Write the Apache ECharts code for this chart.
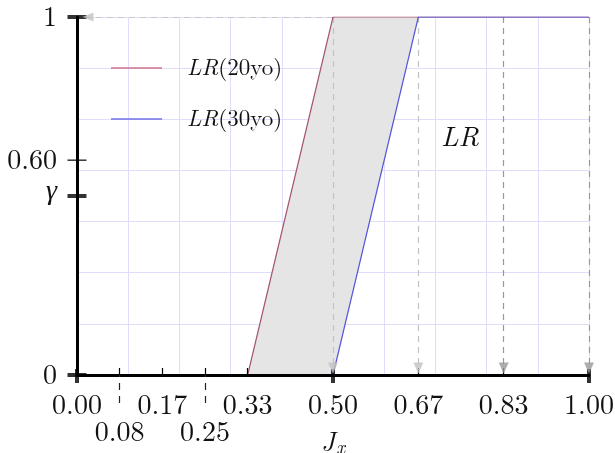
<!DOCTYPE html>
<html>
<head>
<meta charset="utf-8">
<script src="https://cdn.jsdelivr.net/npm/echarts@6/dist/echarts.min.js"></script>
<style>
  html, body { margin: 0; padding: 0; background: #fff; }
  #main { width: 615px; height: 453px; }
</style>
</head>
<body>
<div id="main"></div>
<script>
// data
var xLabelVals = [0, 1/6, 1/3, 0.5, 2/3, 5/6, 1];
var xLabelVals2 = [1/12, 1/4];
var xMinorTicks = [1/12, 1/6, 1/4, 1/3, 2/3, 5/6];
var xMajorTicks = [0, 0.5, 1];
var yLabelVals = [0, 0.5, 0.6, 1];
var yMajorTicks = [0, 0.5, 1];
var yMinorTicks = [0.6];
var gammaVal = 0.5;
var lr20 = [[0, 0], [1/3, 0], [0.5, 1], [1, 1]];
var lr30 = [[0, 0], [0.5, 0], [2/3, 1], [1, 1]];
var arrowXs = [0.5, 2/3, 5/6, 1];
var seriesNames = ['LR(20yo)', 'LR(30yo)'];

var FONT = '"Latin Modern Roman", "Liberation Serif", serif';
var GREEK = '"Liberation Serif", serif';
var GRIDC = '#dedefa';
var TXT = '#111';

var chart = echarts.init(document.getElementById('main'), null, {renderer: 'canvas'});

/* fill polygon between the two curves */
function fillPoly(params, api) {
    var pts = [];
    lr20.forEach(function(p){ pts.push(api.coord(p)); });
    lr30.slice().reverse().forEach(function(p){ pts.push(api.coord(p)); });
    return {
        type: 'polygon',
        shape: {points: pts},
        style: {fill: '#e5e5e5', stroke: null}
    };
}

function arrowColor(x){ return x > 0.75 ? '#999999' : '#c2c2c2'; }

var arrowData = arrowXs.map(function(x){
    return {coords: [[x, 1], [x, 0]], lineStyle: {color: arrowColor(x)}};
});
arrowData.push({coords: [[0.5, 1], [0, 1]], lineStyle: {color: '#c8c8c8'}});

var headData = arrowXs.map(function(x){
    return {value: [x, 0], itemStyle: {color: arrowColor(x)}};
});

function italic(size){
    return {fontFamily: FONT, fontSize: size, fontStyle: 'italic', color: TXT};
}
function upright(size){
    return {fontFamily: FONT, fontSize: size, color: TXT};
}

var option = {
    animation: false,
    backgroundColor: '#fff',
    grid: {left: 77, right: 26, top: 17, bottom: 78, containLabel: false, outerBoundsMode: 'none'},
    legend: {
        data: seriesNames,
        orient: 'vertical',
        left: 111,
        top: 56,
        padding: 0,
        itemGap: 27,
        itemWidth: 51,
        itemHeight: 1.5,
        icon: 'rect',
        formatter: function(name){
            return '{sp|}{i|LR}{n|' + name.slice(2) + '}';
        },
        textStyle: {
            fontFamily: FONT, fontSize: 23, color: TXT, lineHeight: 24,
            rich: {
                sp: {width: 20},
                i: italic(23),
                n: upright(23)
            }
        }
    },
    graphic: [{
        type: 'text',
        left: 441,
        top: 123,
        style: {text: 'LR', fontFamily: FONT, fontSize: 28, fontStyle: 'italic', fill: TXT}
    }],
    xAxis: [{
        // vertical grid lines only
        type: 'value', min: 0, max: 1, interval: 0.1, position: 'bottom', z: 0,
        axisLine: {show: false}, axisTick: {show: false}, axisLabel: {show: false},
        splitLine: {show: true, lineStyle: {color: GRIDC, width: 1}}
    }, {
        type: 'value',
        min: 0, max: 1,
        position: 'bottom',
        z: 8,
        name: '{j|J}{s|x}',
        nameLocation: 'middle',
        nameGap: 53,
        nameTextStyle: {
            rich: {
                j: italic(27),
                s: {fontFamily: FONT, fontSize: 19, fontStyle: 'italic', color: TXT, padding: [11, 0, 0, 1]}
            }
        },
        axisLine: {show: true, onZero: false, lineStyle: {color: '#000', width: 3}},
        axisTick: {show: true, inside: true, length: 7, customValues: xMinorTicks, lineStyle: {color: '#000', width: 1.2}},
        axisLabel: {
            customValues: xLabelVals,
            margin: 16,
            fontFamily: FONT, fontSize: 28, color: TXT,
            formatter: function(v){ return v.toFixed(2); }
        },
        splitLine: {show: false}
    }, {
        type: 'value',
        min: 0, max: 1,
        position: 'bottom',
        z: 8,
        axisLine: {show: false, onZero: false},
        axisTick: {show: true, length: 32, customValues: xLabelVals2, lineStyle: {color: '#222', width: 1.2, type: [7, 6], dashOffset: -8}},
        axisLabel: {
            customValues: xLabelVals2,
            margin: 43,
            fontFamily: FONT, fontSize: 28, color: TXT,
            formatter: function(v){ return v.toFixed(2); }
        },
        splitLine: {show: false}
    }],
    yAxis: [{
        // horizontal grid lines only
        type: 'value', min: 0, max: 1, interval: 1/7, z: 0,
        axisLine: {show: false}, axisTick: {show: false}, axisLabel: {show: false},
        splitLine: {show: true, lineStyle: {color: GRIDC, width: 1}}
    }, {
        type: 'value',
        min: 0, max: 1,
        position: 'left',
        z: 8,
        axisLine: {show: true, onZero: false, lineStyle: {color: '#000', width: 3}},
        axisTick: {show: false},
        axisLabel: {
            customValues: yLabelVals,
            margin: 20,
            fontFamily: FONT, fontSize: 28, color: TXT,
            formatter: function(v){
                if (Math.abs(v - gammaVal) < 1e-9) return '{g|γ}';
                if (v === 0 || v === 1) return String(v);
                return v.toFixed(2);
            },
            rich: {g: {fontFamily: GREEK, fontSize: 28, fontStyle: 'italic', color: TXT, padding: [0, 0, 8, 0]}}
        },
        splitLine: {show: false}
    }],
    series: [{
        type: 'custom',
        renderItem: fillPoly,
        data: [[0, 0]],
        z: 1,
        silent: true
    }, {
        type: 'lines',
        coordinateSystem: 'cartesian2d',
        data: arrowData,
        symbol: 'none',
        lineStyle: {type: [6, 5], width: 1.2, opacity: 1},
        z: 2,
        silent: true
    }, {
        name: seriesNames[0],
        type: 'line',
        data: lr20,
        showSymbol: false,
        color: '#d0708e',
        lineStyle: {width: 1.2, color: '#a45670'},
        z: 5
    }, {
        name: seriesNames[1],
        type: 'line',
        data: lr30,
        showSymbol: false,
        color: '#7070e8',
        lineStyle: {width: 1.2, color: '#5656dc'},
        z: 5
    }, {
        type: 'scatter',
        data: xMajorTicks.map(function(x){ return [x, 0]; }),
        symbol: 'rect',
        symbolSize: [4, 14],
        symbolOffset: [0, 1],
        itemStyle: {color: '#000'},
        clip: false,
        z: 10,
        silent: true
    }, {
        type: 'scatter',
        data: yMajorTicks.map(function(y){ return [0, y]; }),
        symbol: 'rect',
        symbolSize: [19, 4],
        itemStyle: {color: '#000'},
        clip: false,
        z: 10,
        silent: true
    }, {
        type: 'scatter',
        data: yMinorTicks.map(function(y){ return [0, y]; }),
        symbol: 'rect',
        symbolSize: [19, 1.5],
        itemStyle: {color: '#000'},
        clip: false,
        z: 10,
        silent: true
    }, {
        // arrow heads (down)
        type: 'scatter',
        data: headData,
        symbol: 'triangle',
        symbolRotate: 180,
        symbolSize: [10, 11],
        symbolOffset: [0, -7],
        clip: false,
        z: 11,
        silent: true
    }, {
        // arrow head (left)
        type: 'scatter',
        data: [[0, 1]],
        symbol: 'triangle',
        symbolRotate: 90,
        symbolSize: [9, 11],
        symbolOffset: [11, 0],
        itemStyle: {color: '#c2c2c2'},
        clip: false,
        z: 11,
        silent: true
    }]
};
chart.setOption(option);
</script>
</body>
</html>
